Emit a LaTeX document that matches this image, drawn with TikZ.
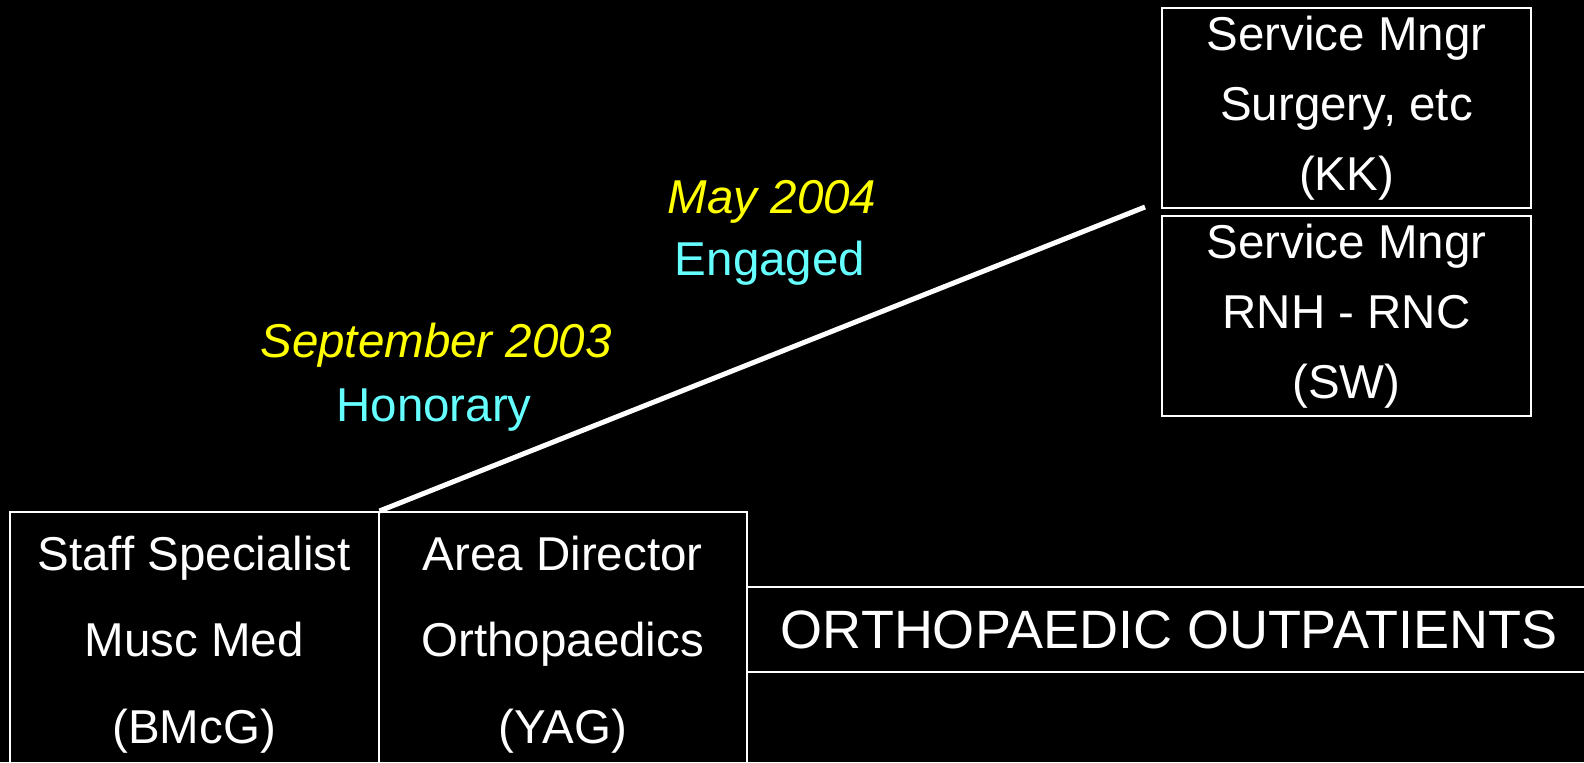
\documentclass[tikz,border=0pt]{standalone}
\usepackage{fontspec}
\setmainfont{Liberation Sans}
\definecolor{datecol}{RGB}{255,255,0}
\definecolor{kindcol}{RGB}{102,255,255}

\begin{document}
\begin{tikzpicture}[x=0.5pt,y=-0.5pt,
  box/.style={draw=white,line width=1pt,text=white,align=center,inner sep=0pt,anchor=north west},
  tall/.style={box,minimum width=184.25pt,minimum height=132.5pt,font=\fontsize{23.75}{43.25}\selectfont},
  mngr/.style={box,minimum width=184.5pt,minimum height=100pt,font=\fontsize{23.75}{35}\selectfont},
  date/.style={text=datecol,anchor=base,inner sep=0pt,font=\fontsize{23.75}{28}\selectfont\itshape},
  kind/.style={text=kindcol,anchor=base,inner sep=0pt,font=\fontsize{23.75}{28}\selectfont}]
% The background
\fill[black] (0,0) rectangle (1584,762);
\useasboundingbox (0,0) rectangle (1584,762);

% The two service managers
\node[mngr] (mngrK) at (1161,7) {Service Mngr\\Surgery, etc\\(KK)};
\node[mngr] (mngrS) at (1161,215) {Service Mngr\\RNH - RNC\\(SW)};

% The boxes at the bottom
\node[tall] (staff) at (9,511) {Staff Specialist\\Musc Med\\(BMcG)};
\node[tall] (director) at (377.5,511) {Area Director\\Orthopaedics\\(YAG)};
\node[box,minimum width=422pt,minimum height=42.5pt,font=\fontsize{27}{30}\selectfont]
  (ortho) at (746,586) {ORTHOPAEDIC OUTPATIENTS};

% The line up to the managers
\coordinate (lineend) at (1145,207);
\draw[white,line width=2.5pt] (staff.north east) -- (lineend);

% Dates and labels
\node[date] (may) at (772,213) {May 2004};
\node[kind] (engaged) at (770,275) {Engaged};
\node[date] (sept) at (436,357) {September 2003};
\node[kind] (honorary) at (434,421) {Honorary};

\end{tikzpicture}
\end{document}
